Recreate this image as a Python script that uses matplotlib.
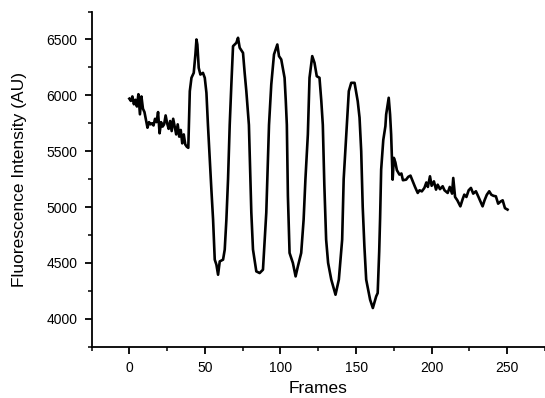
import numpy as np
import matplotlib.pyplot as plt
from matplotlib.ticker import MultipleLocator

plt.rcParams['font.family'] = ['Liberation Sans', 'DejaVu Sans']

# baseline before stimulation (frames 0-39)
frames_pre = list(range(0, 40))
values_pre = [5970, 5950, 5990, 5920, 5960, 5900, 6010, 5830, 5990, 5880,
              5850, 5780, 5710, 5760, 5740, 5750, 5730, 5790, 5760, 5850,
              5660, 5760, 5720, 5740, 5820, 5750, 5700, 5770, 5680, 5790,
              5720, 5650, 5740, 5630, 5690, 5570, 5650, 5560, 5540, 5530]

# oscillation segment (frames 40-173)
frames_osc = [40, 41.1, 42.6, 43.7, 44.4, 45, 45.9, 47, 48.7, 49.9, 51, 52,
              53.2, 54.3, 55.4, 56.5, 57.6, 58.7, 59.8, 62, 63.1, 64.2, 65.3,
              66.4, 67.5, 68.6, 70.8, 71.9, 73, 75.2, 76.3, 77.4, 79.1, 80,
              80.7, 81.8, 84, 86.2, 88.4, 89.5, 90.6, 91.5, 92.4, 93.9, 95.7,
              97.9, 99, 100.5, 102.7, 103.5, 104.2, 104.9, 106, 108.2, 110,
              111.5, 113.7, 115.3, 116.5, 118.1, 119.2, 121, 122.5, 124, 125.8,
              127, 128, 129, 130.2, 131.5, 133.6, 136.4, 138.6, 140.8, 141.8,
              143.5, 145.2, 146.8, 149, 151.1, 152.3, 153.4, 154.4, 155.5,
              156.7, 159.3, 161.1, 163.3, 164.3, 165.3, 165.9, 166.6, 168,
              169.4, 169.9, 171.6, 172.5, 173.2]
values_osc = [6037, 6157, 6201, 6366, 6500, 6455, 6246, 6186, 6201, 6157, 6022,
              5735, 5425, 5150, 4887, 4529, 4484, 4394, 4513, 4529, 4618, 4887,
              5250, 5735, 6100, 6440, 6470, 6515, 6426, 6380, 6200, 6037, 5735,
              5300, 4950, 4620, 4424, 4409, 4439, 4700, 4950, 5350, 5735, 6097,
              6366, 6455, 6351, 6321, 6157, 5950, 5735, 5100, 4589, 4499, 4379,
              4469, 4589, 4887, 5250, 5649, 6157, 6351, 6291, 6171, 6157, 5950,
              5735, 5200, 4708, 4500, 4350, 4215, 4350, 4708, 5250, 5649, 6037,
              6112, 6112, 5947, 5800, 5500, 5000, 4650, 4350, 4170, 4096, 4200,
              4230, 4600, 4900, 5335, 5600, 5723, 5828, 5978, 5828, 5650]

# recovery tail (frames 174-250)
frames_post = [174.2, 175, 176, 177, 178.7, 180, 181, 183.1, 184.5, 186, 187.5,
               189, 190.8, 192, 193.5, 195.2, 196.5, 197.5, 198.9, 200, 201.5,
               202.9, 204, 205.5, 207.3, 208.5, 210.6, 212, 213.5, 214.3, 215.5,
               217, 219, 220.5, 221.6, 223, 224.5, 226, 227.5, 229.3, 231,
               233.7, 235, 236.5, 238.1, 239.5, 241, 242.5, 244, 245.8, 247,
               248.5, 250.2]
values_post = [5245, 5440, 5400, 5330, 5290, 5300, 5240, 5245, 5270, 5281,
               5230, 5180, 5126, 5150, 5140, 5171, 5220, 5180, 5275, 5190,
               5230, 5156, 5200, 5160, 5186, 5150, 5126, 5180, 5120, 5260,
               5090, 5060, 5006, 5070, 5111, 5090, 5150, 5171, 5120, 5141,
               5090, 5006, 5060, 5110, 5141, 5110, 5100, 5096, 5030, 5051,
               5060, 4990, 4977]

frames = frames_pre + frames_osc + frames_post
values = values_pre + values_osc + values_post

fig = plt.figure(figsize=(5.45, 3.98), dpi=100)
ax = fig.add_axes([0.168, 0.129, 0.832, 0.842])

ax.plot(frames, values, color='black', linewidth=1.9, solid_joinstyle='round')

ax.set_xlim(-25, 275)
ax.set_ylim(3750, 6750)
ax.xaxis.set_major_locator(MultipleLocator(50))
ax.xaxis.set_minor_locator(MultipleLocator(25))
ax.yaxis.set_major_locator(MultipleLocator(500))
ax.yaxis.set_minor_locator(MultipleLocator(250))

for s in ['top', 'right']:
    ax.spines[s].set_visible(False)
for s in ['left', 'bottom']:
    ax.spines[s].set_linewidth(1.3)

ax.tick_params(which='major', direction='out', length=5, width=1.3, labelsize=10, pad=5)
ax.tick_params(which='minor', direction='out', length=3, width=1.1)

ax.set_xlabel('Frames', fontsize=12.5, labelpad=5)
ax.set_ylabel('Fluorescence Intensity (AU)', fontsize=12.5, labelpad=14)

fig.savefig('out.png', dpi=100)
